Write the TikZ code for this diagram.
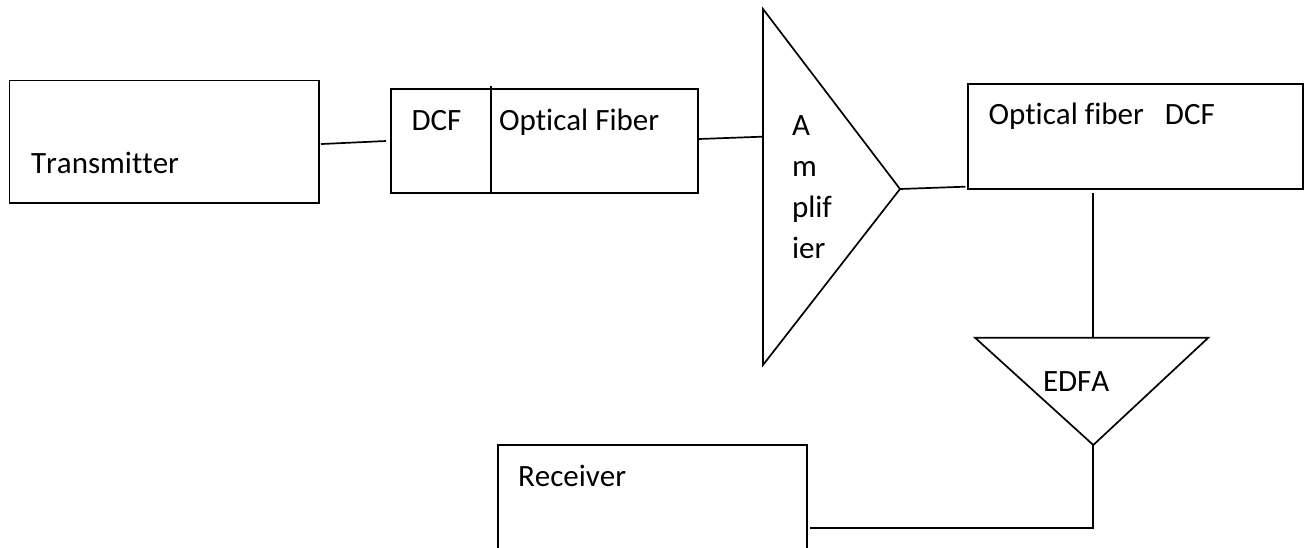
\documentclass[tikz,border=0pt]{standalone}
\usepackage{fontspec}
\newfontfamily\lbfont{Carlito}[Ligatures={NoCommon}, Kerning=Off]
\usetikzlibrary{calc}
\tikzset{
  boxnode/.style={draw, line width=1.7pt, rectangle, inner sep=0pt, outer sep=0pt, anchor=north west},
  lbl/.style={anchor=base west, inner sep=0pt, outer sep=0pt, font=\lbfont\fontsize{31}{37}\selectfont},
  wire/.style={line width=1.7pt, line cap=butt},
  shapeline/.style={line width=1.7pt, line join=miter}
}
\begin{document}
\begin{tikzpicture}[x=1pt,y=-1pt]
\useasboundingbox (0,0) rectangle (1310,548);
% boxes
\node[boxnode, minimum width=309.5pt, minimum height=122.5pt] (tx) at (9.5,80.5) {};
\node[boxnode, minimum width=306.7pt, minimum height=104pt] (dcf) at (391,89.3) {};
\node[boxnode, minimum width=335pt, minimum height=104.7pt] (ob) at (968.3,84.3) {};
\node[boxnode, minimum width=309pt, minimum height=140pt] (rx) at (498,445) {};
% divider in first fiber box
\coordinate (divT) at (490.7,86);
\coordinate (divB) at (490.7,191.7);
\draw[wire] (divT) -- (divB);
% amplifier triangle
\coordinate (ampT) at (763,9);
\coordinate (ampB) at (763,365);
\coordinate (ampO) at (900,189);
\coordinate (ampIn) at (762,136.7);
\draw[shapeline] (ampT) -- (ampO) -- (ampB) -- cycle;
% EDFA triangle
\coordinate (edL) at (975,337.7);
\coordinate (edR) at (1208.3,337.7);
\coordinate (edO) at (1093.3,445);
\coordinate (edIn) at (1093.3,337.7);
\coordinate (edCorner) at (1093.3,528);
\draw[shapeline] (edL) -- (edR) -- (edO) -- cycle;
% labels
\node[lbl] (ltx) at (31,174) {Transmitter};
\node[lbl] (ldcf) at (411.5,131) {DCF};
\node[lbl] (lof) at (499,131) {Optical Fiber};
\node[lbl] (la1) at (792,136) {A};
\node[lbl] (la2) at (792,177) {m};
\node[lbl] (la3) at (792,218) {plif};
\node[lbl] (la4) at (792,259) {ier};
\node[lbl] (lob) at (988.5,125) {Optical fiber\ \ \ DCF};
\node[lbl] (led) at (1043,391) {EDFA};
\node[lbl] (lrx) at (518,486) {Receiver};
% connectors
\draw[wire] ([shift={(2,2.3)}]tx.east) -- ([shift={(-5,-0.3)}]dcf.west);
\draw[wire] ([shift={(1.5,-2.3)}]dcf.east) -- (ampIn);
\draw[wire] (ampO) -- ([shift={(-3,-2.3)}]ob.south west);
\draw[wire] ([shift={(125,4.3)}]ob.south west) -- (edIn);
\draw[wire, line join=miter] (edO) -- (edCorner) -- ([shift={(3,13)}]rx.east);
\end{tikzpicture}
\end{document}
